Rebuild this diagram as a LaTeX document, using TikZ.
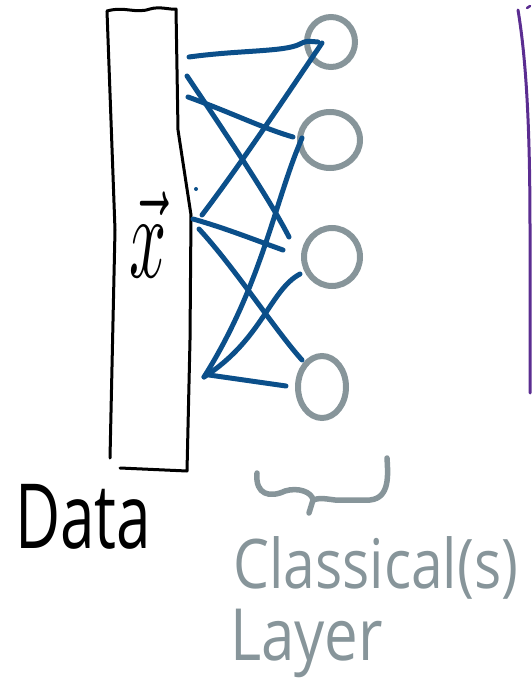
\documentclass[tikz,border=0pt]{standalone}
\usepackage{fontspec}
\usepackage{graphicx}
\setmainfont{Open Sans}
\usetikzlibrary{shapes.geometric}
\definecolor{wireblue}{HTML}{0B4F8A}
\definecolor{layergrey}{HTML}{87959A}
\definecolor{sidepurple}{HTML}{5B2D91}
\tikzset{
  wire/.style={draw=wireblue, line width=5pt, line cap=round, line join=round},
  neuron/.style={ellipse, draw=layergrey, line width=6pt, inner sep=0pt},
  boxline/.style={draw=black, line width=3pt, line cap=round, line join=round},
  greyink/.style={draw=layergrey, line width=5.5pt, line cap=round, line join=round},
}
\begin{document}
\begin{tikzpicture}[x=1pt,y=-1pt]
\useasboundingbox (0,0) rectangle (531,687);
% data box
\draw[boxline] (107,11) .. controls (125,6) and (135,14) .. (150,9) .. controls (160,6) and (170,10) .. (176,9)
  -- (178,130) -- (191,215) -- (190,340) -- (187,471) -- (120,468);
\draw[boxline] (107,11) -- (115,230) -- (110,458);
\node[anchor=base, inner sep=0pt] (xvec) at (148,277) {\scalebox{6.5}[12]{$\vec{x}$}};
% neurons
\node[neuron, minimum width=48pt, minimum height=50pt] (c1) at (331,42) {};
\node[neuron, minimum width=60pt, minimum height=56pt] (c2) at (330,140) {};
\node[neuron, minimum width=56pt, minimum height=58pt] (c3) at (332,257) {};
\node[neuron, minimum width=48pt, minimum height=62pt] (c4) at (322,387) {};
% endpoints
\coordinate (a1) at (189,57);
\coordinate (a2) at (187,76);
\coordinate (a3) at (188,97);
\coordinate (a4) at (202,215);
\coordinate (a6) at (193,219);
\coordinate (a7) at (199,229);
\coordinate (a8) at (204,377);
\coordinate (a9) at (209,375);
\coordinate (e1) at (318,42);
\coordinate (e1b) at (322,43);
\coordinate (e2) at (289,237);
\coordinate (e3) at (293,137);
\coordinate (e5) at (302,138);
\coordinate (e6) at (283,250);
\coordinate (e7) at (302,360);
\coordinate (e8) at (300,274);
\coordinate (e9) at (286,386);
% wires
\draw[wire] (a1) .. controls (240,50) and (285,52) .. (300,44) .. controls (306,41) .. (e1);
\draw[wire] (a2) .. controls (230,140) and (270,200) .. (e2);
\draw[wire] (a3) .. controls (230,112) and (262,128) .. (e3);
\draw[wire] (e1b) .. controls (280,105) and (240,165) .. (a4);
\draw[wire] (e5) .. controls (275,200) and (262,285) .. (a8);
\draw[wire] (a6) .. controls (225,228) and (255,240) .. (e6);
\draw[wire] (a7) .. controls (235,268) and (275,330) .. (e7);
\draw[wire] (e8) .. controls (270,290) and (262,340) .. (a8);
\draw[wire] (a9) -- (e9);
\fill[wireblue] (196,189) circle (2pt);
% brace
\coordinate (b1) at (257,473);
\coordinate (b2) at (313,500);
\coordinate (b3) at (309,513);
\coordinate (b4) at (387,458);
\draw[greyink] (b1) .. controls (255,495) and (270,498) .. (285,491) .. controls (298,487) and (312,492) .. (b2) -- (b3);
\draw[greyink] (b2) .. controls (320,498) .. (335,500) -- (370,500) .. controls (390,498) and (388,475) .. (b4);
% purple line
\coordinate (p1) at (518,10);
\coordinate (p2) at (530,393);
\draw[draw=sidepurple, line width=3pt, line cap=round] (p1) .. controls (528,70) and (530,150) .. (530,233) -- (p2);
\draw[draw=sidepurple, line width=2.5pt, line cap=round] (527,8) -- (530,6);
% labels
\node[anchor=base west, inner sep=0pt] (data) at (15,548) {\scalebox{1}[1.45]{\fontsize{62}{62}\selectfont Data}};
\node[anchor=base west, inner sep=0pt, text=layergrey] (classical) at (233,588) {\scalebox{1}[1.2]{\fontsize{57}{57}\selectfont Classical(s)}};
\node[anchor=base west, inner sep=0pt, text=layergrey] (layer) at (230,660) {\scalebox{1}[1.2]{\fontsize{60}{60}\selectfont Layer}};
\end{tikzpicture}
\end{document}
